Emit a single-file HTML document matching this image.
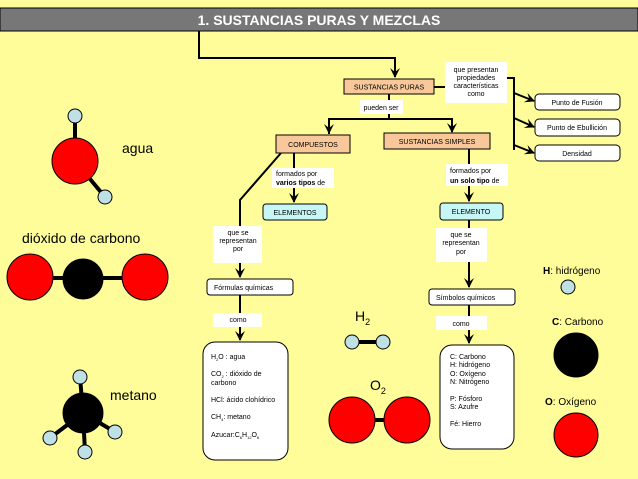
<!DOCTYPE html>
<html><head><meta charset="utf-8"><style>
body{margin:0;background:#FFFD9A;}
svg{display:block;font-family:"Liberation Sans",sans-serif;}
</style></head><body>
<svg width="638" height="479" viewBox="0 0 638 479" xmlns="http://www.w3.org/2000/svg">
<defs><marker id="a" viewBox="0 0 10 10" refX="9" refY="5" markerWidth="5" markerHeight="5" orient="auto"><path d="M0,0 L10,5 L0,10 L4,5z" fill="#000"/></marker></defs>
<rect width="638" height="479" fill="#FFFD9A"/>
<rect x="0" y="8" width="638" height="23" fill="#777" stroke="#000"/>
<text x="319" y="25" font-size="14" font-weight="bold" fill="#fff" text-anchor="middle">1. SUSTANCIAS PURAS Y MEZCLAS</text>
<g stroke="#000" stroke-width="2" fill="none">
<polyline points="199,31 199,58 395,58 395,77" marker-end="url(#a)"/>
<line x1="434" y1="87" x2="445" y2="87"/>
<polyline points="507,78 514,78 514,150"/>
<line x1="514" y1="93" x2="534" y2="101" marker-end="url(#a)"/>
<line x1="514" y1="118" x2="534" y2="127" marker-end="url(#a)"/>
<line x1="514" y1="145" x2="534" y2="153" marker-end="url(#a)"/>
<line x1="389" y1="94" x2="389" y2="119"/>
<polyline points="329,134 329,119 452,119 452,132" marker-end="url(#a)"/>
<line x1="329" y1="119" x2="329" y2="133" marker-end="url(#a)"/>
<line x1="294" y1="153" x2="294" y2="202" marker-end="url(#a)"/>
<polyline points="281,153 240,200 240,277" marker-end="url(#a)"/>
<line x1="240" y1="295" x2="240" y2="340" marker-end="url(#a)"/>
<line x1="469" y1="149" x2="469" y2="201" marker-end="url(#a)"/>
<line x1="469" y1="220" x2="469" y2="287" marker-end="url(#a)"/>
<line x1="469" y1="305" x2="469" y2="343" marker-end="url(#a)"/>
</g>
<g font-size="7" text-anchor="middle" fill="#000">
<rect x="445" y="62" width="62" height="41" fill="#fff"/>
<text x="476" y="72">que presentan</text><text x="476" y="80">propiedades</text><text x="476" y="88">características</text><text x="476" y="96">como</text>
<rect x="344" y="79" width="90" height="15" fill="#F9C89A" stroke="#000"/>
<text x="389" y="89.5">SUSTANCIAS PURAS</text>
<rect x="360" y="100" width="43" height="14" fill="#fff"/><text x="381" y="110">pueden ser</text>
<rect x="276" y="135" width="74" height="18" fill="#F9C89A" stroke="#000"/><text x="313" y="147">COMPUESTOS</text>
<rect x="384" y="133" width="106" height="16" fill="#F9C89A" stroke="#000"/><text x="437" y="144">SUSTANCIAS SIMPLES</text>
<rect x="535" y="94" width="85" height="16" rx="4" fill="#fff" stroke="#000"/><text x="577" y="105">Punto de Fusión</text>
<rect x="535" y="119" width="85" height="17" rx="4" fill="#fff" stroke="#000"/><text x="577" y="130">Punto de Ebullición</text>
<rect x="535" y="145" width="85" height="16" rx="4" fill="#fff" stroke="#000"/><text x="577" y="156">Densidad</text>
<rect x="272" y="168" width="62" height="20" fill="#fff"/>
<text x="276" y="176" text-anchor="start">formados por</text><text x="276" y="185" text-anchor="start"><tspan font-weight="bold">varios tipos</tspan> de</text>
<rect x="446" y="164" width="62" height="22" fill="#fff"/>
<text x="450" y="173" text-anchor="start">formados por</text><text x="450" y="183" text-anchor="start"><tspan font-weight="bold">un solo tipo</tspan> de</text>
<rect x="263" y="204" width="64" height="16" rx="3" fill="#C6F6F6" stroke="#000"/><text x="295" y="215">ELEMENTOS</text>
<rect x="440" y="203" width="63" height="17" rx="3" fill="#C6F6F6" stroke="#000"/><text x="471" y="214">ELEMENTO</text>
<rect x="213" y="226" width="49" height="37" fill="#fff"/>
<text x="238" y="235">que se</text><text x="238" y="243">representan</text><text x="238" y="251">por</text>
<rect x="436" y="228" width="51" height="34" fill="#fff"/>
<text x="461" y="237">que se</text><text x="461" y="245">representan</text><text x="461" y="254">por</text>
<rect x="207" y="279" width="86" height="16" rx="3" fill="#fff" stroke="#000"/><text x="214" y="290" text-anchor="start">Fórmulas químicas</text>
<rect x="429" y="289" width="86" height="16" rx="3" fill="#fff" stroke="#000"/><text x="436" y="300" text-anchor="start">Símbolos químicos</text>
<rect x="213" y="313" width="49" height="14" fill="#fff"/><text x="238" y="322">como</text>
<rect x="436" y="316" width="51" height="14" fill="#fff"/><text x="461" y="326">como</text>
<rect x="203" y="342" width="85" height="118" rx="12" fill="#fff" stroke="#000"/>
<g text-anchor="start"><text x="211" y="359">H<tspan font-size="4" dy="2">2</tspan><tspan dy="-2">O : agua</tspan></text>
<text x="211" y="376">CO<tspan font-size="4" dy="2">2</tspan><tspan dy="-2"> : dióxido de</tspan></text><text x="211" y="385">carbono</text>
<text x="211" y="402">HCl: ácido clohídrico</text>
<text x="211" y="419">CH<tspan font-size="4" dy="2">4</tspan><tspan dy="-2">: metano</tspan></text>
<text x="211" y="437">Azucar:C<tspan font-size="4" dy="2">6</tspan><tspan dy="-2">H</tspan><tspan font-size="4" dy="2">12</tspan><tspan dy="-2">O</tspan><tspan font-size="4" dy="2">6</tspan></text></g>
<rect x="440" y="345" width="74" height="104" rx="12" fill="#fff" stroke="#000"/>
<g text-anchor="start"><text x="450" y="359">C: Carbono</text><text x="450" y="367">H: hidrógeno</text><text x="450" y="376">O: Oxígeno</text><text x="450" y="384">N: Nitrógeno</text>
<text x="450" y="401">P: Fósforo</text><text x="450" y="409">S: Azufre</text><text x="450" y="426">Fé: Hierro</text></g>
</g>
<g stroke="#000" stroke-width="1">
<line x1="75" y1="116" x2="75" y2="161" stroke-width="4"/><line x1="75" y1="161" x2="105" y2="197" stroke-width="4"/>
<circle cx="75" cy="161" r="23" fill="#f00"/><circle cx="75" cy="116" r="7" fill="#bfe1e6"/><circle cx="105" cy="197" r="7" fill="#bfe1e6"/>
<line x1="30" y1="278" x2="145" y2="278" stroke-width="4"/>
<circle cx="30" cy="277" r="23" fill="#f00"/><circle cx="83" cy="279" r="20" fill="#000"/><circle cx="145" cy="277" r="23" fill="#f00"/>
<g stroke-width="4"><line x1="83" y1="413" x2="80" y2="377"/><line x1="83" y1="413" x2="50" y2="438"/><line x1="83" y1="413" x2="115" y2="432"/><line x1="83" y1="413" x2="85" y2="452"/></g>
<circle cx="83" cy="413" r="20" fill="#000"/>
<circle cx="80" cy="377" r="7" fill="#bfe1e6"/><circle cx="50" cy="438" r="7" fill="#bfe1e6"/><circle cx="115" cy="432" r="7" fill="#bfe1e6"/><circle cx="85" cy="452" r="7" fill="#bfe1e6"/>
<line x1="352" y1="342" x2="383" y2="342" stroke-width="4"/>
<circle cx="352" cy="342" r="7" fill="#bfe1e6"/><circle cx="383" cy="342" r="7" fill="#bfe1e6"/>
<line x1="352" y1="420" x2="407" y2="420" stroke-width="4"/>
<circle cx="352" cy="420" r="23" fill="#f00"/><circle cx="407" cy="420" r="23" fill="#f00"/>
<circle cx="568" cy="287" r="7" fill="#bfe1e6"/>
<circle cx="576" cy="355" r="22" fill="#000"/>
<circle cx="576" cy="435" r="22" fill="#f00"/>
</g>
<g font-size="14" fill="#000">
<text x="122" y="153">agua</text>
<text x="22" y="243">dióxido de carbono</text>
<text x="110" y="400">metano</text>
<text x="355" y="321">H<tspan font-size="9" dy="4">2</tspan></text>
<text x="370" y="390">O<tspan font-size="9" dy="4">2</tspan></text>
</g>
<g font-size="10" fill="#000">
<text x="543" y="274"><tspan font-weight="bold">H</tspan>: hidrógeno</text>
<text x="552" y="325"><tspan font-weight="bold">C</tspan>: Carbono</text>
<text x="545" y="405"><tspan font-weight="bold">O</tspan>: Oxígeno</text>
</g>
</svg>
</body></html>
